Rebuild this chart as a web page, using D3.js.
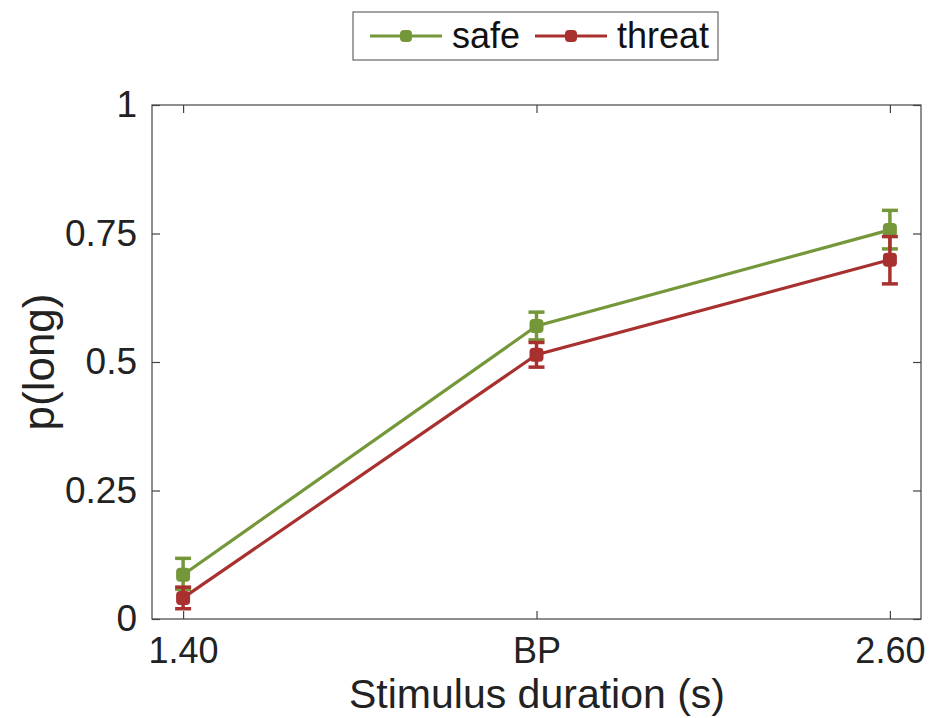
<!DOCTYPE html>
<html><head><meta charset="utf-8">
<script src="https://cdn.jsdelivr.net/npm/d3@7"></script>
<style>body{margin:0;background:#fff}svg{display:block}text{font-family:"Liberation Sans",Arial,sans-serif}</style>
</head><body>
<script>
const categories = ["1.40", "BP", "2.60"];
const safeMean = [0.086, 0.570, 0.757];
const safeLow = [0.058, 0.543, 0.720];
const safeHigh = [0.118, 0.597, 0.795];
const threatMean = [0.041, 0.514, 0.699];
const threatLow = [0.020, 0.490, 0.652];
const threatHigh = [0.062, 0.538, 0.744];
const yTicks = [0, 0.25, 0.5, 0.75, 1];
const yTickLabels = ["0", "0.25", "0.5", "0.75", "1"];

const W = 933, H = 718;
const m = {l: 152, r: 921, t: 105, b: 619};
const svg = d3.select("body").append("svg").attr("width", W).attr("height", H);
const x = d3.scaleLinear().domain([-0.088, 2.088]).range([m.l, m.r]);
const y = d3.scaleLinear().domain([0, 1]).range([m.b, m.t]);
const axisColor = "#444";

svg.append("rect").attr("x", m.l).attr("y", m.t).attr("width", m.r - m.l).attr("height", m.b - m.t)
  .attr("fill", "none").attr("stroke", axisColor).attr("stroke-width", 1.2);

const yAxis = d3.axisLeft(y).tickValues(yTicks).tickFormat((d, i) => yTickLabels[i]).tickSizeInner(-8).tickSizeOuter(0).tickPadding(15);
const gy = svg.append("g").attr("transform", `translate(${m.l},0)`).call(yAxis);
const yAxisR = d3.axisRight(y).tickValues(yTicks).tickFormat("").tickSizeInner(-8).tickSizeOuter(0);
svg.append("g").attr("transform", `translate(${m.r},0)`).call(yAxisR);
const xAxis = d3.axisBottom(x).tickValues([0, 1, 2]).tickFormat((d, i) => categories[i]).tickSizeInner(-8).tickSizeOuter(0).tickPadding(18);
const gx = svg.append("g").attr("transform", `translate(0,${m.b})`).call(xAxis);
const xAxisT = d3.axisTop(x).tickValues([0, 1, 2]).tickFormat("").tickSizeInner(-8).tickSizeOuter(0);
svg.append("g").attr("transform", `translate(0,${m.t})`).call(xAxisT);
svg.selectAll(".domain").remove();
svg.selectAll(".tick line").attr("stroke", axisColor).attr("stroke-width", 1.2);
gy.selectAll("text").attr("font-size", 37).attr("fill", "#222");
gx.selectAll("text").attr("font-size", 36).attr("fill", "#222");

const series = [
  {name: "safe", color: "#74973a", mean: safeMean, low: safeLow, high: safeHigh},
  {name: "threat", color: "#a8302f", mean: threatMean, low: threatLow, high: threatHigh}
];
const line = d3.line().x((d, i) => x(i)).y(d => y(d));
series.forEach(s => {
  const g = svg.append("g");
  g.append("path").attr("d", line(s.mean)).attr("fill", "none").attr("stroke", s.color).attr("stroke-width", 3.2);
  s.mean.forEach((v, i) => {
    const cx = x(i);
    g.append("line").attr("x1", cx).attr("x2", cx).attr("y1", y(s.low[i])).attr("y2", y(s.high[i]))
      .attr("stroke", s.color).attr("stroke-width", 3.5);
    [s.low[i], s.high[i]].forEach(e => {
      g.append("line").attr("x1", cx - 8).attr("x2", cx + 8).attr("y1", y(e)).attr("y2", y(e))
        .attr("stroke", s.color).attr("stroke-width", 3.5);
    });
    g.append("rect").attr("x", cx - 7).attr("y", y(v) - 7).attr("width", 14).attr("height", 14)
      .attr("rx", 4).attr("fill", s.color);
  });
});

svg.append("text").attr("x", 537).attr("y", 708).attr("text-anchor", "middle")
  .attr("font-size", 41).attr("fill", "#222").text("Stimulus duration (s)");
svg.append("text").attr("transform", `translate(54,${(m.t + m.b) / 2}) rotate(-90)`).attr("text-anchor", "middle")
  .attr("font-size", 44).attr("fill", "#222").text("p(long)");

const lg = svg.append("g");
lg.append("rect").attr("x", 353).attr("y", 12).attr("width", 365).attr("height", 48)
  .attr("fill", "#fff").attr("stroke", "#666").attr("stroke-width", 1.2);
const items = [{s: series[0], x0: 370, tx: 452}, {s: series[1], x0: 535, tx: 617}];
items.forEach(it => {
  lg.append("line").attr("x1", it.x0).attr("x2", it.x0 + 72).attr("y1", 36).attr("y2", 36)
    .attr("stroke", it.s.color).attr("stroke-width", 3.2);
  lg.append("rect").attr("x", it.x0 + 30).attr("y", 30).attr("width", 12).attr("height", 12)
    .attr("rx", 4).attr("fill", it.s.color);
  lg.append("text").attr("x", it.tx).attr("y", 48).attr("font-size", 36).attr("fill", "#111").text(it.s.name);
});
</script>
</body></html>
